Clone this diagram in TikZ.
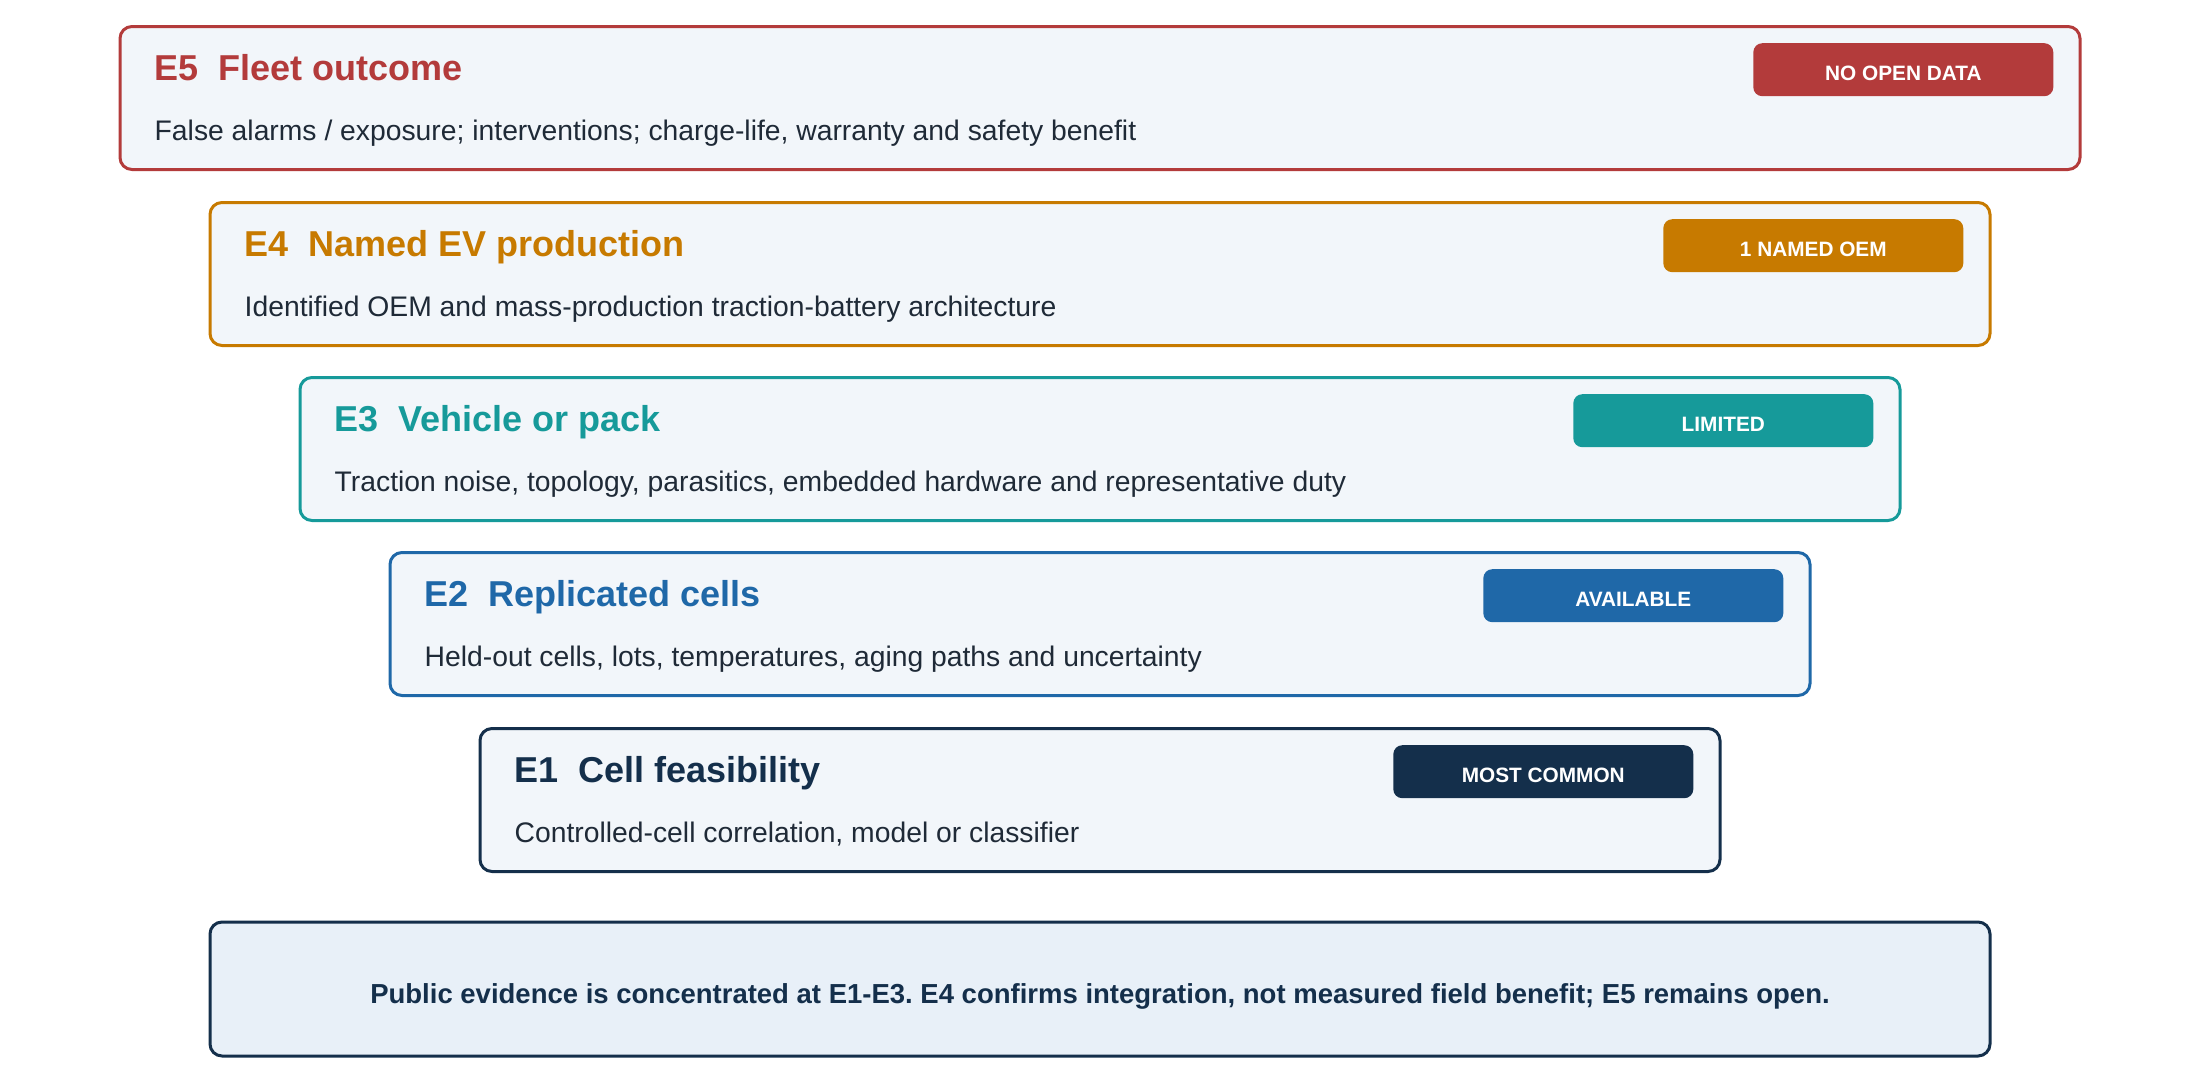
\documentclass[tikz,border=0pt]{standalone}
\usepackage{fontspec}
\setmainfont{Liberation Sans}
\usetikzlibrary{positioning}
\definecolor{fleetred}{HTML}{B33B3B}
\definecolor{oemorange}{HTML}{C77A00}
\definecolor{packteal}{HTML}{169A9A}
\definecolor{cellblue}{HTML}{1F68A8}
\definecolor{feasnavy}{HTML}{142F4B}
\definecolor{boxfill}{HTML}{F2F6FA}
\definecolor{notefill}{HTML}{E8F0F8}
\definecolor{bodytext}{HTML}{1F2A37}
\frenchspacing

\begin{document}
\begin{tikzpicture}[x=1pt, y=-1pt,
    tier/.style={draw, line width=3pt, rounded corners=12pt, fill=boxfill, minimum height=143pt, anchor=north, inner sep=0pt},
    badge/.style={rounded corners=9pt, minimum width=300pt, minimum height=53pt, anchor=north east, text=white, inner sep=0pt, text height=21.5pt, text depth=0pt, font=\bfseries\fontsize{20.8}{24}\selectfont},
    tiertitle/.style={anchor=base west, inner sep=0pt, font=\bfseries\fontsize{36}{43}\selectfont},
    tierbody/.style={anchor=base west, inner sep=0pt, text=bodytext, font=\fontsize{28.3}{34}\selectfont}]
  \useasboundingbox (0,0) rectangle (2200,1080);
  % E5
  \node[tier, draw=fleetred, minimum width=1960pt] (e5) at (1100,25) {};
  \node[tiertitle, text=fleetred] (e5t) at ([xshift=36pt,yshift=-55pt]e5.north west) {E5\ \ Fleet outcome};
  \node[tierbody] (e5d) at ([xshift=36pt,yshift=-115pt]e5.north west) {False alarms / exposure; interventions; charge-life, warranty and safety benefit};
  \node[badge, fill=fleetred] (e5b) at ([xshift=-28pt,yshift=-18pt]e5.north east) {NO OPEN DATA};
  % E4
  \node[tier, draw=oemorange, minimum width=1780pt] (e4) at (1100,201) {};
  \node[tiertitle, text=oemorange] (e4t) at ([xshift=36pt,yshift=-55pt]e4.north west) {E4\ \ Named EV production};
  \node[tierbody] (e4d) at ([xshift=36pt,yshift=-115pt]e4.north west) {Identified OEM and mass-production traction-battery architecture};
  \node[badge, fill=oemorange] (e4b) at ([xshift=-28pt,yshift=-18pt]e4.north east) {1 NAMED OEM};
  % E3
  \node[tier, draw=packteal, minimum width=1600pt] (e3) at (1100,376) {};
  \node[tiertitle, text=packteal] (e3t) at ([xshift=36pt,yshift=-55pt]e3.north west) {E3\ \ Vehicle or pack};
  \node[tierbody] (e3d) at ([xshift=36pt,yshift=-115pt]e3.north west) {Traction noise, topology, parasitics, embedded hardware and representative duty};
  \node[badge, fill=packteal] (e3b) at ([xshift=-28pt,yshift=-18pt]e3.north east) {LIMITED};
  % E2
  \node[tier, draw=cellblue, minimum width=1420pt] (e2) at (1100,551) {};
  \node[tiertitle, text=cellblue] (e2t) at ([xshift=36pt,yshift=-55pt]e2.north west) {E2\ \ Replicated cells};
  \node[tierbody] (e2d) at ([xshift=36pt,yshift=-115pt]e2.north west) {Held-out cells, lots, temperatures, aging paths and uncertainty};
  \node[badge, fill=cellblue] (e2b) at ([xshift=-28pt,yshift=-18pt]e2.north east) {AVAILABLE};
  % E1
  \node[tier, draw=feasnavy, minimum width=1240pt] (e1) at (1100,727) {};
  \node[tiertitle, text=feasnavy] (e1t) at ([xshift=36pt,yshift=-55pt]e1.north west) {E1\ \ Cell feasibility};
  \node[tierbody] (e1d) at ([xshift=36pt,yshift=-115pt]e1.north west) {Controlled-cell correlation, model or classifier};
  \node[badge, fill=feasnavy] (e1b) at ([xshift=-28pt,yshift=-18pt]e1.north east) {MOST COMMON};
  % Summary
  \node[draw=feasnavy, line width=3pt, rounded corners=12pt, fill=notefill, minimum width=1780pt, minimum height=134pt, text=feasnavy, text height=28pt, text depth=0pt, font=\bfseries\fontsize{27.5}{33}\selectfont] (note) at (1100,989) {Public evidence is concentrated at E1-E3. E4 confirms integration, not measured field benefit; E5 remains open.};
\end{tikzpicture}
\end{document}
